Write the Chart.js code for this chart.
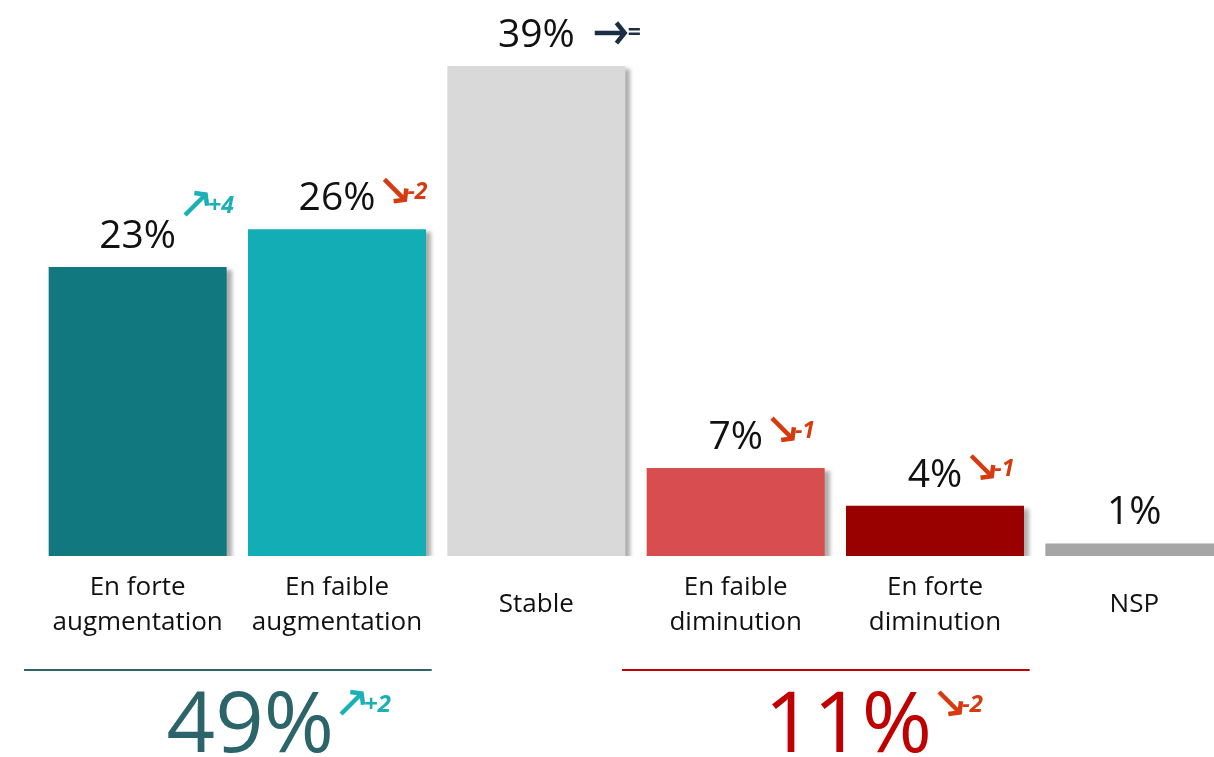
<!DOCTYPE html>
<html lang="fr">
<head>
  <meta charset="UTF-8">
  <title>Evolution</title>
  <script src="https://cdn.jsdelivr.net/npm/chart.js"></script>
  <style>
    html, body { margin: 0; padding: 0; background: #fff; overflow: hidden; }
    #wrap { width: 1240px; height: 757px; }
  </style>
</head>
<body>
<div id="wrap"><canvas id="chart" width="1240" height="757"></canvas></div>

<script>
  // data
  const categories = [
    ["En forte", "augmentation"],
    ["En faible", "augmentation"],
    ["Stable"],
    ["En faible", "diminution"],
    ["En forte", "diminution"],
    ["NSP"]
  ];
  const values = [23, 26, 39, 7, 4, 1];
  const deltas = ["+4", "-2", "=", "-1", "-1", ""];
  const trends = ["up", "down", "flat", "down", "down", null];

  const groupFrom = [0, 3];
  const groupTo = [1, 4];
  const groupTotals = [49, 11];
  const groupDeltas = ["+2", "-2"];
  const groupTrends = ["up", "down"];

  const barColors = ["#12787F", "#13AEB5", "#D9D9D9", "#D84E50", "#990000", "#A6A6A6"];
  const groupColors = ["#2B6469", "#C00000"];
  const trendColors = { up: "#19B0B6", down: "#D63A0E", flat: "#1C2E45" };
  const FONT = '"Open Sans", "Noto Sans", sans-serif';

  function drawTrend(ctx, dir, delta, x, top, size, fontSize) {
    const color = trendColors[dir];
    ctx.save();
    ctx.strokeStyle = color;
    ctx.fillStyle = color;
    ctx.lineWidth = 4.5;
    ctx.lineCap = "butt";
    ctx.lineJoin = "miter";
    let tail, tip, arms;
    const h = size * 0.58;
    if (dir === "up") {
      tail = [x, top + size]; tip = [x + size, top];
      arms = [[tip[0] - h, tip[1]], [tip[0], tip[1] + h]];
    } else if (dir === "down") {
      tail = [x, top]; tip = [x + size, top + size];
      arms = [[tip[0] - h, tip[1]], [tip[0], tip[1] - h]];
    } else {
      tail = [x, top + size / 2]; tip = [x + size * 1.45, top + size / 2];
      arms = [[tip[0] - h * 0.8, tip[1] - h * 0.8], [tip[0] - h * 0.8, tip[1] + h * 0.8]];
    }
    ctx.beginPath();
    ctx.moveTo(tail[0], tail[1]);
    ctx.lineTo(tip[0] - (dir === "flat" ? 3 : 2), tip[1] + (dir === "up" ? 2 : dir === "down" ? -2 : 0));
    ctx.stroke();
    ctx.beginPath();
    ctx.moveTo(arms[0][0], arms[0][1]);
    ctx.lineTo(tip[0] - (dir === "flat" ? 2 : 1.5), tip[1] + (dir === "up" ? 1.5 : dir === "down" ? -1.5 : 0));
    ctx.lineTo(arms[1][0], arms[1][1]);
    ctx.stroke();

    ctx.textAlign = "left";
    ctx.textBaseline = "alphabetic";
    if (dir === "flat") {
      ctx.font = "bold " + fontSize + "px " + FONT;
      ctx.fillText(delta, tip[0] + 1, top + size / 2 + 7);
    } else {
      ctx.font = "italic bold " + fontSize + "px " + FONT;
      ctx.fillText(delta, tip[0] + 1, top + size * 0.9);
    }
    ctx.restore();
  }

  const shadowPlugin = {
    id: "barShadow",
    beforeDatasetsDraw(chart) {
      const ctx = chart.ctx;
      ctx.save();
      ctx.shadowColor = "rgba(0,0,0,0.32)";
      ctx.shadowOffsetX = 5;
      ctx.shadowOffsetY = 3;
      ctx.shadowBlur = 4;
    },
    afterDatasetsDraw(chart) {
      chart.ctx.restore();
    }
  };

  const annotPlugin = {
    id: "annot",
    afterDraw(chart) {
      const ctx = chart.ctx;
      const xs = chart.scales.x;
      const area = chart.chartArea;
      const meta = chart.getDatasetMeta(0);
      const catW = xs.getPixelForValue(1) - xs.getPixelForValue(0);

      // category labels
      ctx.save();
      ctx.fillStyle = "#111";
      ctx.font = "26px " + FONT;
      ctx.textAlign = "center";
      ctx.textBaseline = "middle";
      categories.forEach((lines, i) => {
        const x = xs.getPixelForValue(i);
        const y0 = area.bottom + 49 - (lines.length - 1) * 17.5;
        lines.forEach((l, j) => ctx.fillText(l, x, y0 + j * 35));
      });
      ctx.restore();

      // value labels
      ctx.save();
      ctx.fillStyle = "#111";
      ctx.font = "39px " + FONT;
      ctx.textAlign = "center";
      ctx.textBaseline = "alphabetic";
      values.forEach((v, i) => {
        const bar = meta.data[i];
        const txt = v + "%";
        const base = bar.y - 19;
        ctx.fillText(txt, bar.x, base);
        const w = ctx.measureText(txt).width;
        const capTop = base - 29;
        const t = trends[i];
        if (t) {
          const gap = t === "flat" ? 20 : 9;
          const top = t === "up" ? capTop - 26 : t === "flat" ? capTop + 4 : capTop - 2;
          drawTrend(ctx, t, deltas[i], bar.x + w / 2 + gap, top, 22, 23);
        }
      });
      ctx.restore();

      // group totals
      groupTotals.forEach((tot, g) => {
        const x1 = xs.getPixelForValue(groupFrom[g]) - catW / 2 - 14;
        const x2 = xs.getPixelForValue(groupTo[g]) + catW / 2 - 5;
        const y = area.bottom + 114;
        ctx.save();
        ctx.strokeStyle = groupColors[g];
        ctx.lineWidth = 2;
        ctx.beginPath();
        ctx.moveTo(x1, y);
        ctx.lineTo(x2, y);
        ctx.stroke();
        ctx.fillStyle = groupColors[g];
        ctx.font = "85px " + FONT;
        ctx.textAlign = "center";
        ctx.textBaseline = "alphabetic";
        const cx = (xs.getPixelForValue(groupFrom[g]) + xs.getPixelForValue(groupTo[g])) / 2 + 13;
        const base = area.bottom + 196;
        const txt = tot + "%";
        ctx.fillText(txt, cx, base);
        const w = ctx.measureText(txt).width;
        drawTrend(ctx, groupTrends[g], groupDeltas[g], cx + w / 2 + 7, base - 60, 22, 24);
        ctx.restore();
      });
    }
  };

  new Chart(document.getElementById("chart"), {
    type: "bar",
    data: {
      labels: categories,
      datasets: [{
        data: values,
        backgroundColor: barColors,
        borderWidth: 0,
        categoryPercentage: 1,
        barPercentage: 0.893
      }]
    },
    options: {
      responsive: false,
      animation: false,
      layout: { padding: { left: 38, right: 6, top: 0, bottom: 201 } },
      plugins: {
        legend: { display: false },
        tooltip: { enabled: false }
      },
      scales: {
        x: { display: false },
        y: { display: false, min: 0, max: 44.25 }
      }
    },
    plugins: [shadowPlugin, annotPlugin]
  });
</script>
</body>
</html>
